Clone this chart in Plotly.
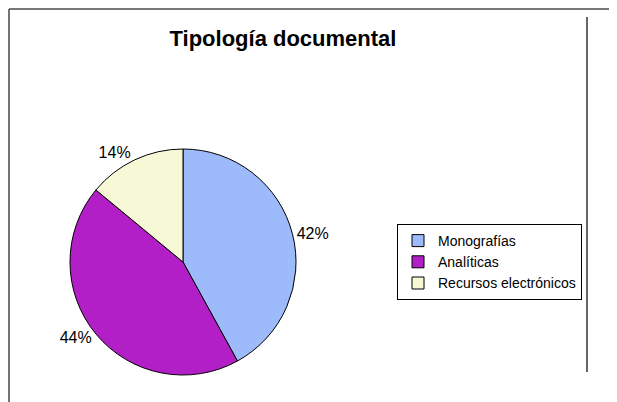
import plotly.graph_objects as go

categories = ["Monografías", "Analíticas", "Recursos electrónicos"]
values = [42, 44, 14]
colors = ["#9DBBFB", "#B21FC6", "#F6F8D6"]
title_text = "Tipología documental"

# page body has an 8px margin; positions below are in reference pixels
OFF = 8
W, H = 617 - OFF, 402 - OFF


def px(x):
    return (x - OFF) / W


def py(y):
    return 1 - (y - OFF) / H


cx, cy, r = 183, 262, 113

fig = go.Figure(go.Pie(
    labels=categories,
    values=values,
    sort=False,
    direction="clockwise",
    rotation=0,
    marker=dict(colors=colors, line=dict(color="black", width=1)),
    textinfo="percent",
    textposition="outside",
    texttemplate="%{percent:.0%}",
    outsidetextfont=dict(family="Liberation Sans, Arial", size=16, color="black"),
    domain=dict(x=[px(cx - r), px(cx + r)], y=[py(cy + r), py(cy - r)]),
    hoverinfo="label+percent",
))

shapes = [
    dict(type="line", xref="paper", yref="paper", x0=px(9), x1=1, y0=py(9), y1=py(9),
         line=dict(color="#777777", width=2)),
    dict(type="line", xref="paper", yref="paper", x0=px(9), x1=px(9), y0=0, y1=py(9),
         line=dict(color="#444444", width=1.5)),
    dict(type="line", xref="paper", yref="paper", x0=px(587), x1=px(587), y0=py(17), y1=py(372),
         line=dict(color="#333333", width=1.5)),
]

fig.update_layout(
    width=W, height=H,
    margin=dict(l=0, r=0, t=0, b=0),
    paper_bgcolor="white",
    plot_bgcolor="white",
    title=dict(text="<b>" + title_text + "</b>", x=px(283), xanchor="center", y=py(38), yanchor="middle",
               font=dict(family="Liberation Sans, Arial", size=22, color="black")),
    legend=dict(x=px(397), xanchor="left", y=py(262), yanchor="middle",
                bordercolor="black", borderwidth=1, bgcolor="white", itemwidth=30,
                font=dict(family="Liberation Sans, Arial", size=14, color="black")),
    shapes=shapes,
    showlegend=True,
)

fig.write_html("out.html")
